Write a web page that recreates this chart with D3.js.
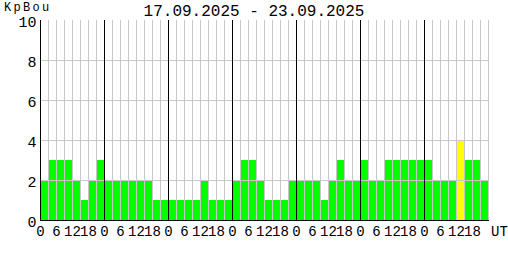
<!DOCTYPE html>
<html>
<head>
<meta charset="utf-8">
<script src="https://cdn.jsdelivr.net/npm/d3@7"></script>
<style>
  body { margin:0; background:#fff; }
  text { font-family:"Liberation Mono", "DejaVu Sans Mono", monospace; fill:#000; }
</style>
</head>
<body>
<script>
// Kp index, 3-hour slots, 17.09.2025 - 23.09.2025
const days = ["17.09", "18.09", "19.09", "20.09", "21.09", "22.09", "23.09"];
const kpValues = [
  2,3,3,3,2,1,2,3,
  2,2,2,2,2,2,1,1,
  1,1,1,1,2,1,1,1,
  2,3,3,2,1,1,1,2,
  2,2,2,1,2,3,2,2,
  3,2,2,3,3,3,3,3,
  3,2,2,2,4,3,3,2
];
const hourTicks = [0, 6, 12, 18];
const yTicks = [0, 2, 4, 6, 8, 10];
const title = "17.09.2025 - 23.09.2025";

const w = 508, h = 260;
const plotL = 40, plotR = 488, plotT = 20, plotB = 220;

const svg = d3.select("body").append("svg")
  .attr("width", w).attr("height", h);

// slot index -> x
const xScale = d3.scaleLinear().domain([0, kpValues.length]).range([plotL, plotR]);
const yScale = d3.scaleLinear().domain([0, 10]).range([plotB, plotT]);

function barColor(v){
  if (v >= 5) return "#ff0000";
  if (v >= 4) return "#ffff00";
  return "#00ff00";
}

// bars
svg.selectAll("rect.bar")
  .data(kpValues)
  .enter()
  .append("rect")
  .attr("class", "bar")
  .attr("x", (d, i) => xScale(i))
  .attr("width", xScale(1) - xScale(0))
  .attr("y", (d) => yScale(d))
  .attr("height", (d) => yScale(0) - yScale(d))
  .attr("fill", (d) => barColor(d))
  .attr("shape-rendering", "crispEdges");

// vertical grid (every slot)
const slots = d3.range(1, kpValues.length + 1);
svg.selectAll("line.vgrid")
  .data(slots)
  .enter()
  .append("line")
  .attr("class", "vgrid")
  .attr("x1", (d) => xScale(d) + 0.5).attr("x2", (d) => xScale(d) + 0.5)
  .attr("y1", plotT).attr("y2", plotB)
  .attr("stroke", "#c8c8c8");

// horizontal grid
svg.selectAll("line.hgrid")
  .data(yTicks.filter((d) => d > 0 && d < 10))
  .enter()
  .append("line")
  .attr("class", "hgrid")
  .attr("x1", plotL).attr("x2", plotR + 1)
  .attr("y1", (d) => yScale(d) + 0.5).attr("y2", (d) => yScale(d) + 0.5)
  .attr("stroke", "#c8c8c8");

// day separators
svg.selectAll("line.day")
  .data(d3.range(1, days.length))
  .enter()
  .append("line")
  .attr("class", "day")
  .attr("x1", (d) => xScale(d * 8) + 0.5).attr("x2", (d) => xScale(d * 8) + 0.5)
  .attr("y1", plotT).attr("y2", plotB)
  .attr("stroke", "#000");

// y axis
const yAxis = svg.append("g")
  .attr("transform", "translate(" + (plotL + 0.5) + ",0)")
  .call(d3.axisLeft(yScale).tickValues(yTicks).tickSize(0).tickPadding(4));
yAxis.select(".domain").attr("stroke", "#000").attr("d", "M0," + plotT + "V" + (plotB + 1));
yAxis.selectAll("text")
  .style("font-family", "Liberation Mono").style("font-size", "15px")
  .attr("dy", "0.4em");

// x axis: hour labels for each day
const hourPos = [];
days.forEach((d, i) => hourTicks.forEach((hr) => hourPos.push(i * 8 + hr / 3)));
const xAxis = svg.append("g")
  .attr("transform", "translate(0," + (plotB + 0.5) + ")")
  .call(d3.axisBottom(xScale).tickValues(hourPos).tickSize(0).tickPadding(4)
    .tickFormat((d) => hourTicks[(d % 8) / 2]));
xAxis.select(".domain").attr("stroke", "#000").attr("d", "M" + plotL + ",0H" + (plotR + 1));
xAxis.selectAll("text")
  .style("font-family", "Liberation Mono").style("font-size", "14px")
  .attr("dy", "0.85em");

svg.append("text")
  .attr("x", 491).attr("y", 236)
  .style("font-size", "14px")
  .text("UT");

// labels on top
svg.append("text")
  .attr("x", 4).attr("y", 11)
  .style("font-size", "12px")
  .style("letter-spacing", "2.3px")
  .text("KpBou");

svg.append("text")
  .attr("x", 254).attr("y", 16)
  .attr("text-anchor", "middle")
  .style("font-size", "16px")
  .text(title);
</script>
</body>
</html>
